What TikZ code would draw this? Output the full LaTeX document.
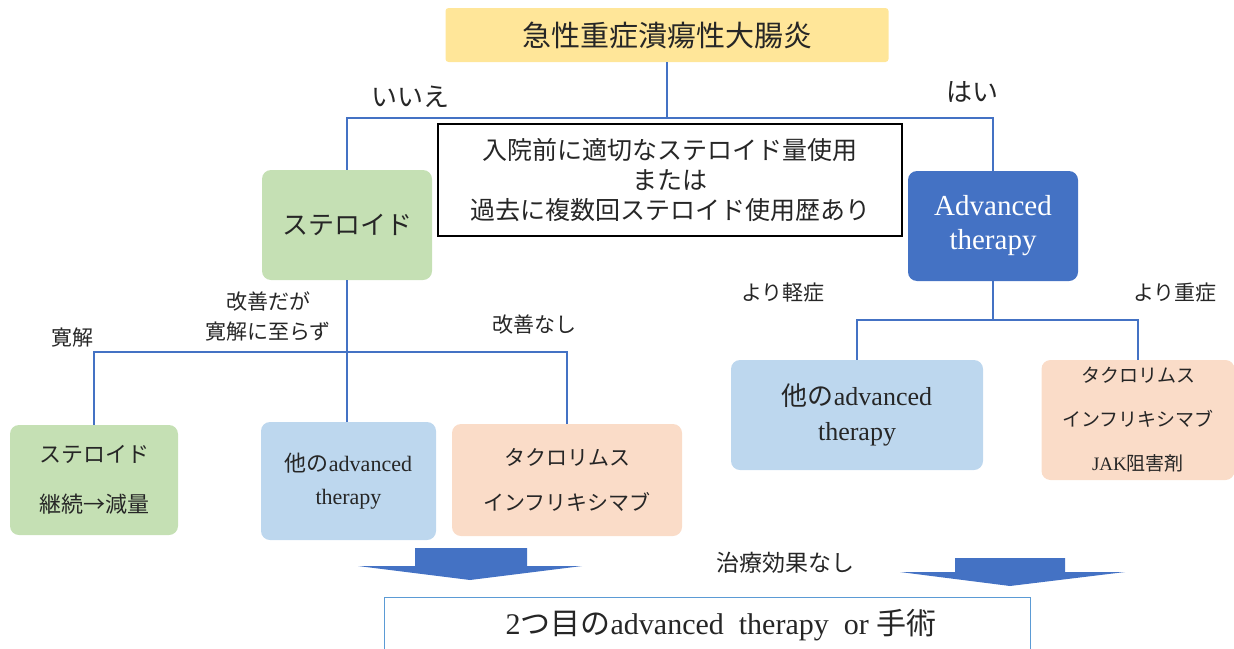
\documentclass[tikz,border=0pt]{standalone}
\usepackage{fontspec}
\setmainfont{Liberation Serif}
\newfontfamily\jp{Noto Sans CJK JP}
\definecolor{gold}{HTML}{FFE699}
\definecolor{lgreen}{HTML}{C5E0B4}
\definecolor{dblue}{HTML}{4472C4}
\definecolor{lblue}{HTML}{BDD7EE}
\definecolor{peach}{HTML}{FADCC8}
\definecolor{ink}{HTML}{262626}
\definecolor{bbord}{HTML}{5B9BD5}
\tikzset{
  fbox/.style={rounded corners=9pt, inner sep=0pt, align=center, text=ink},
  conn/.style={draw=dblue, line width=1.3pt},
  lbl/.style={text=ink, inner sep=0pt, align=center},
  barrow/.style={fill=dblue, draw=none},
}
\begin{document}
\begin{tikzpicture}[x=1pt,y=-1pt]
\useasboundingbox (0,0) rectangle (1234,648);
% main boxes
\node[fbox, fill=gold, minimum width=443pt, minimum height=54pt, rounded corners=3pt, font=\jp\fontsize{29}{34}\selectfont] (top) at (667,35) {急性重症潰瘍性大腸炎};
\node[fbox, fill=lgreen, minimum width=170pt, minimum height=110pt, font=\jp\fontsize{26}{30}\selectfont] (ster) at (347,225) {ステロイド};
\node[fbox, fill=dblue, minimum width=170pt, minimum height=110pt, text=white, font=\fontsize{29}{34}\selectfont] (adv) at (993,226) {Advanced\\therapy};
\node[draw=black, line width=1.3pt, fill=white, minimum width=464pt, minimum height=112pt, inner sep=0pt, align=center, text=ink, font=\jp\fontsize{25}{30}\selectfont] (cond) at (670,180) {入院前に適切なステロイド量使用\\または\\過去に複数回ステロイド使用歴あり};
% connectors top
\coordinate (j1) at (667,118);
\draw[conn] (top.south) -- (j1);
\draw[conn] (ster.north) |- (j1) -| (adv.north);
\node[lbl, font=\jp\fontsize{26}{30}\selectfont] (no) at (410,97) {いいえ};
\node[lbl, font=\jp\fontsize{26}{30}\selectfont] (yes) at (972,92) {はい};
% left children
\node[fbox, fill=lgreen, minimum width=168pt, minimum height=110pt, font=\jp\fontsize{22}{50}\selectfont] (c1) at (94,480) {ステロイド\\継続→減量};
\node[fbox, fill=lblue, minimum width=175pt, minimum height=118pt, font=\fontsize{22}{33}\selectfont] (c2) at (348.5,481) {{\jp 他の}advanced\\therapy};
\node[fbox, fill=peach, minimum width=230pt, minimum height=112pt, font=\jp\fontsize{21}{45}\selectfont] (c3) at (567,480) {タクロリムス\\インフリキシマブ};
\coordinate (j2) at (347,352);
\draw[conn] (ster.south) -- (j2);
\draw[conn] (c1.north) |- (j2) -| (c3.north);
\draw[conn] (j2) -- (j2 |- c2.north);
\node[lbl, font=\jp\fontsize{21}{25}\selectfont] (l1) at (72,338) {寛解};
\node[lbl, font=\jp\fontsize{21}{30}\selectfont] (l2) at (268,316) {改善だが\\寛解に至らず};
\node[lbl, font=\jp\fontsize{21}{25}\selectfont] (l3) at (534,325) {改善なし};
% right children
\node[fbox, fill=lblue, minimum width=252pt, minimum height=110pt, font=\fontsize{26}{35}\selectfont] (r1) at (857,415) {{\jp 他の}advanced\\therapy};
\node[fbox, fill=peach, minimum width=193pt, minimum height=120pt, font=\jp\fontsize{19}{44}\selectfont] (r2) at (1138,420) {タクロリムス\\インフリキシマブ\\{\rmfamily JAK}阻害剤};
\coordinate (j3) at (993,320);
\draw[conn] (adv.south) -- (j3);
\draw[conn] (r1.north) |- (j3) -| (r2.north);
\node[lbl, font=\jp\fontsize{21}{25}\selectfont] (l4) at (783,293) {より軽症};
\node[lbl, font=\jp\fontsize{21}{25}\selectfont] (l5) at (1175,293) {より重症};
% bottom arrows
\fill[barrow] (415,548) -- (527,548) -- (527,566) -- (582,566) -- (470,580) -- (358,566) -- (415,566) -- cycle;
\fill[barrow] (955,558) -- (1065,558) -- (1065,572) -- (1125,572) -- (1010,586) -- (900,572) -- (955,572) -- cycle;
\node[lbl, font=\jp\fontsize{23}{27}\selectfont] (l6) at (785,563) {治療効果なし};
% bottom box
\node[draw=bbord, line width=1pt, fill=white, minimum width=646pt, minimum height=70pt, inner sep=0pt, anchor=north west] (bot) at (384,597) {};
\node[lbl, font=\fontsize{30}{34}\selectfont] (bottxt) at (721,625) {2{\jp つ目の}advanced\ \ therapy\ \ or {\jp 手術}};
\end{tikzpicture}
\end{document}
